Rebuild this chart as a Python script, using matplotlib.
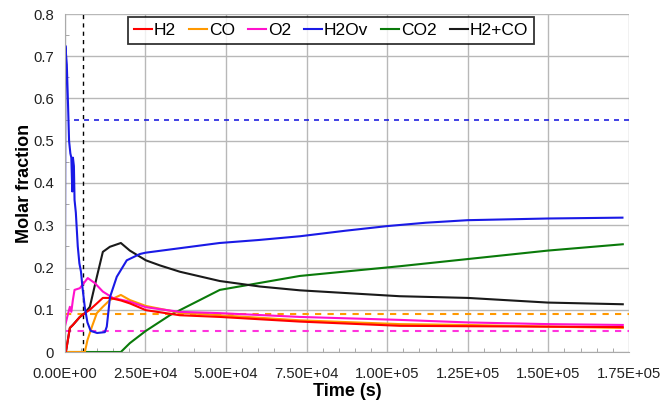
import matplotlib
matplotlib.use('Agg')
import matplotlib.pyplot as plt
import numpy as np
from matplotlib.ticker import FuncFormatter, MultipleLocator

plt.rcParams['font.family'] = ['Liberation Sans', 'DejaVu Sans']

# Curves (time in s, molar fraction)
h2o_t = [0, 150, 600, 1000, 1300, 1700, 2000, 2300, 2500, 2800, 3000, 3400, 4000, 4500,
         5000, 5500, 6200, 7000, 8000, 10000, 12400, 13000, 14000, 16100, 19200, 23300,
         25000, 35000, 48000, 60000, 73000, 87000, 100000, 112000, 125000, 150000, 173000]
h2o_y = [0.0, 0.725, 0.68, 0.58, 0.50, 0.47, 0.46, 0.38, 0.46, 0.44, 0.36, 0.33, 0.25, 0.21,
         0.19, 0.15, 0.105, 0.07, 0.05, 0.045, 0.047, 0.06, 0.13, 0.178, 0.217, 0.232,
         0.235, 0.245, 0.258, 0.265, 0.274, 0.287, 0.298, 0.306, 0.312, 0.316, 0.318]

h2co_t = [0, 310, 1550, 2480, 4650, 6200, 7750, 9920, 11780, 13960, 17370, 20160, 25120,
          29470, 35670, 48070, 60500, 72890, 103900, 125000, 149800, 173100]
h2co_y = [0.0, 0.0, 0.057, 0.064, 0.083, 0.092, 0.107, 0.178, 0.237, 0.249, 0.258, 0.24, 0.217,
          0.205, 0.19, 0.168, 0.155, 0.146, 0.132, 0.128, 0.117, 0.113]

h2_t = [0, 310, 1550, 2480, 4650, 6200, 7750, 9920, 11780, 13960, 17370, 20160, 25120,
        35670, 48070, 72890, 103900, 125000, 149800, 173100]
h2_y = [0.0, 0.0, 0.057, 0.064, 0.083, 0.092, 0.10, 0.115, 0.128, 0.128, 0.122, 0.115, 0.099,
        0.087, 0.083, 0.072, 0.062, 0.061, 0.060, 0.059]

co_t = [0, 6200, 7000, 8400, 9920, 11780, 13960, 17370, 20160, 25120, 35670, 48070,
        72890, 103900, 125000, 149800, 173100]
co_y = [0.0, 0.0, 0.028, 0.06, 0.092, 0.107, 0.123, 0.135, 0.123, 0.109, 0.093, 0.087,
        0.075, 0.066, 0.064, 0.060, 0.057]

o2_t = [0, 800, 1550, 2000, 2480, 3000, 4650, 7100, 9300, 11780, 14900, 20160, 25120,
        35670, 48070, 72890, 103900, 125000, 149800, 173100]
o2_y = [0.06, 0.085, 0.107, 0.095, 0.123, 0.147, 0.151, 0.175, 0.163, 0.143, 0.128, 0.119,
        0.106, 0.095, 0.092, 0.083, 0.076, 0.070, 0.066, 0.064]

co2_t = [0, 17370, 20160, 25120, 32570, 41880, 48070, 72890, 103900, 125000, 149800, 173100]
co2_y = [0.0, 0.0, 0.021, 0.05, 0.087, 0.123, 0.147, 0.18, 0.203, 0.22, 0.24, 0.255]

# reference levels (dashed)
vline_t = 5600
h2o_ref = 0.55
co_ref = 0.09
o2_ref = 0.05

fig = plt.figure(figsize=(6.62, 4.0), dpi=100)
ax = fig.add_axes([0.098, 0.12, 0.852, 0.845])

ax.grid(True, which='major', color='#b8b8b8', linewidth=1.0, zorder=0)
ax.set_axisbelow(True)

ax.plot([vline_t, vline_t], [0, 0.8], color='black', linestyle=(0, (3, 3)), linewidth=1.0)
ax.plot([2800, 175000], [h2o_ref, h2o_ref], color='#2020e0', linestyle=(0, (3, 3)), linewidth=1.2)
ax.plot([0, 175000], [co_ref, co_ref], color='#ff9900', linestyle=(0, (3, 3)), linewidth=1.5)
ax.plot([0, 175000], [o2_ref, o2_ref], color='#ff33dd', linestyle=(0, (3, 3)), linewidth=1.5)

lw = 1.5
ax.plot(co2_t, co2_y, color='#0a7a0a', linewidth=lw, label='CO2')
ax.plot(h2co_t, h2co_y, color='#1a1a1a', linewidth=lw, label='H2+CO')
ax.plot(co_t, co_y, color='#ff9900', linewidth=lw, label='CO')
ax.plot(o2_t, o2_y, color='#ff11cc', linewidth=lw, label='O2')
ax.plot(h2_t, h2_y, color='#ff0000', linewidth=lw, label='H2')
ax.plot(h2o_t, h2o_y, color='#1a1ae6', linewidth=lw, label='H2Ov')

ax.set_xlim(0, 175000)
ax.set_ylim(0, 0.8)
ax.xaxis.set_major_locator(MultipleLocator(25000))
ax.xaxis.set_minor_locator(MultipleLocator(5000))
ax.yaxis.set_major_locator(MultipleLocator(0.1))
ax.yaxis.set_minor_locator(MultipleLocator(0.05))
ax.xaxis.set_major_formatter(FuncFormatter(lambda v, p: f'{v:.2E}'))
ax.yaxis.set_major_formatter(FuncFormatter(lambda v, p: '0' if abs(v) < 1e-9 else f'{v:.1f}'))
ax.tick_params(which='both', direction='in', color='#999999', labelsize=10.7,
               labelcolor='#222222')
ax.tick_params(axis='x', pad=11)
ax.tick_params(axis='y', pad=8)
ax.tick_params(which='major', length=0)
ax.tick_params(which='minor', length=3)

for s in ['top', 'right']:
    ax.spines[s].set_visible(False)
for s in ['left', 'bottom']:
    ax.spines[s].set_color('#aaaaaa')

ax.set_xlabel('Time (s)', fontsize=13, fontweight='bold', labelpad=1)
ax.set_ylabel('Molar fraction', fontsize=13, fontweight='bold', labelpad=0)

handles, labels = ax.get_legend_handles_labels()
order = ['H2', 'CO', 'O2', 'H2Ov', 'CO2', 'H2+CO']
hl = dict(zip(labels, handles))
leg = ax.legend([hl[k] for k in order], order, ncol=6, loc='upper left',
                bbox_to_anchor=(0.112, 0.99), fontsize=12.5, frameon=True, fancybox=False,
                edgecolor='black', handlelength=1.05, handletextpad=0.1, columnspacing=0.75,
                borderpad=0.32, borderaxespad=0.0)
leg.get_frame().set_linewidth(1.3)

fig.savefig('out.png', dpi=100)
